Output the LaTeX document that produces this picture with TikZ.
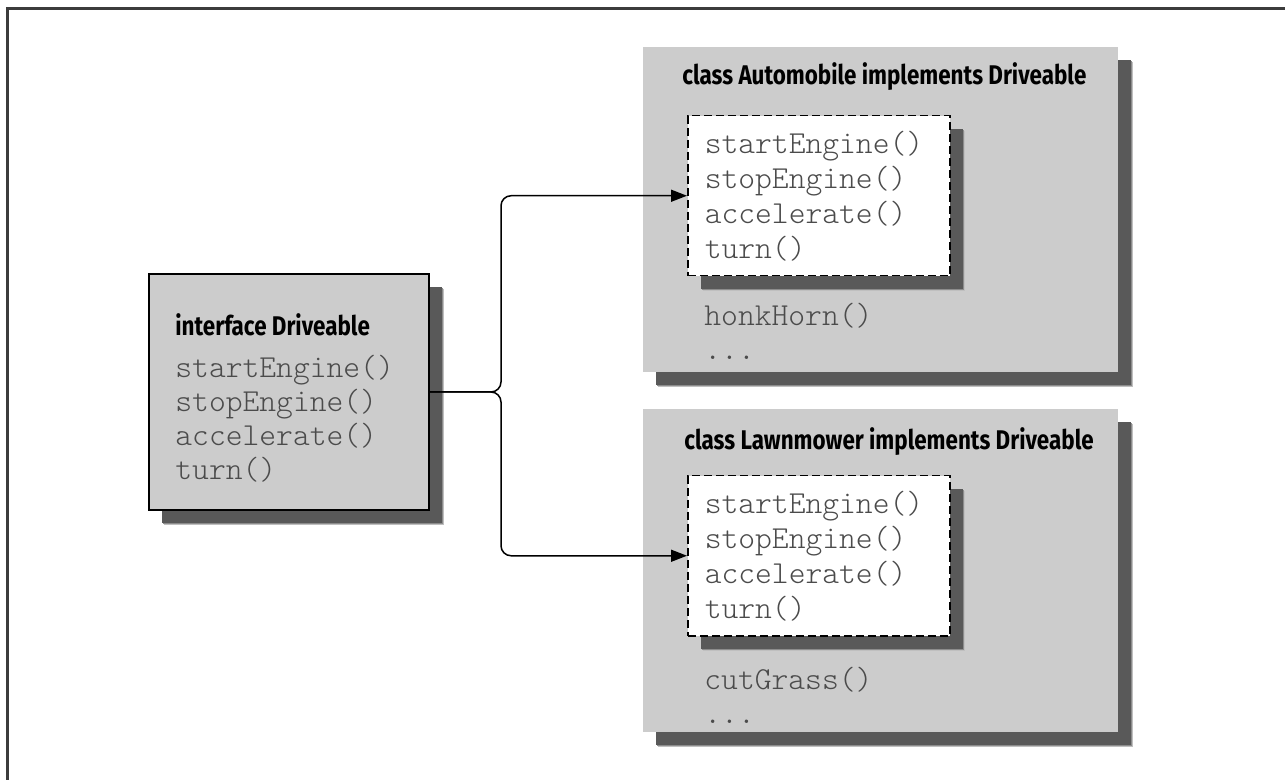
\documentclass[tikz,border=0pt]{standalone}
\usepackage{fontspec}
\setmonofont{Latin Modern Mono Light}
\newfontfamily\headfont{Fira Sans}[FakeStretch=0.83]
\usepackage{tikz}
\usetikzlibrary{positioning, shadows, arrows.meta}
\definecolor{boxgray}{RGB}{204, 204, 204}
\definecolor{codegray}{RGB}{75, 75, 75}
\definecolor{framegray}{RGB}{60, 60, 60}
\newcommand\codefont{\ttfamily\fontsize{16}{17}\selectfont}
\newcommand\headsize{\headfont\bfseries\fontsize{13.5}{15}\selectfont}

\tikzset{
	softshadow/.style={
		general shadow={shadow xshift=7.5pt, shadow yshift=-7.5pt, fill=black!25},
		general shadow={shadow xshift=7pt, shadow yshift=-7pt, fill=black!45},
		general shadow={shadow xshift=6.5pt, shadow yshift=-6.5pt, fill=black!65}},
	ifacebox/.style={draw=black, line width=1pt, fill=boxgray, softshadow,
		anchor=north west, minimum width=140pt, minimum height=118pt, inner sep=0pt},
	classbox/.style={fill=boxgray, softshadow, anchor=north west,
		minimum width=237.5pt, inner sep=0pt},
	classtitle/.style={anchor=west, inner sep=0pt, font=\headsize},
	methodbox/.style={draw=black, dash pattern=on 4pt off 2pt, line width=0.75pt,
		fill=white, softshadow, anchor=north west, minimum height=80pt,
		text width=114pt, inner xsep=8.5pt, align=left, text=codegray,
		font=\ttfamily\fontsize{16}{17.5}\selectfont},
	codetext/.style={anchor=base west, inner sep=0pt, text width=110pt,
		align=left, text=codegray, font=\codefont},
	link/.style={draw=black, line width=0.75pt, rounded corners=5pt,
		-{Triangle[length=8pt, width=6pt]}},
	frameline/.style={draw=framegray, line width=1.5pt}
}

\begin{document}
\begin{tikzpicture}[x=0.5pt, y=-0.5pt]
	\useasboundingbox (0,0) rectangle (1285,780);
	% outer frame (top and left only)
	\draw[frameline] (7,780) -- (7,9) -- (1285,9);

	% interface
	\node[ifacebox] (iface) at (148,273) {};
	\node[classtitle] (ifacetitle) at (175,325) {interface Driveable};
	\node[codetext] (ifacemethods) at (175,378)
		{startEngine()\\ stopEngine()\\ accelerate()\\ turn()};

	% class Automobile
	\node[classbox, minimum height=162.5pt] (auto) at (643,47) {};
	\node[classtitle] (autotitle) at (682,77) {class Automobile implements Driveable};
	\node[methodbox] (autoiface) at (687,115)
		{startEngine()\\ stopEngine()\\ accelerate()\\ turn()};
	\node[codetext] (autoextra) at (704,326) {honkHorn()\\ ...};

	% class Lawnmower
	\node[classbox, minimum height=161.5pt] (lawn) at (643,409) {};
	\node[classtitle] (lawntitle) at (684,442) {class Lawnmower implements Driveable};
	\node[methodbox] (lawniface) at (687,475)
		{startEngine()\\ stopEngine()\\ accelerate()\\ turn()};
	\node[codetext] (lawnextra) at (704,689) {cutGrass()\\ ...};

	% connectors
	\coordinate[right=35.5pt of iface.east] (split);
	\draw[link] (iface.east) -- (split) |- (autoiface.west);
	\draw[link] (iface.east) -- (split) |- (lawniface.west);
\end{tikzpicture}
\end{document}
